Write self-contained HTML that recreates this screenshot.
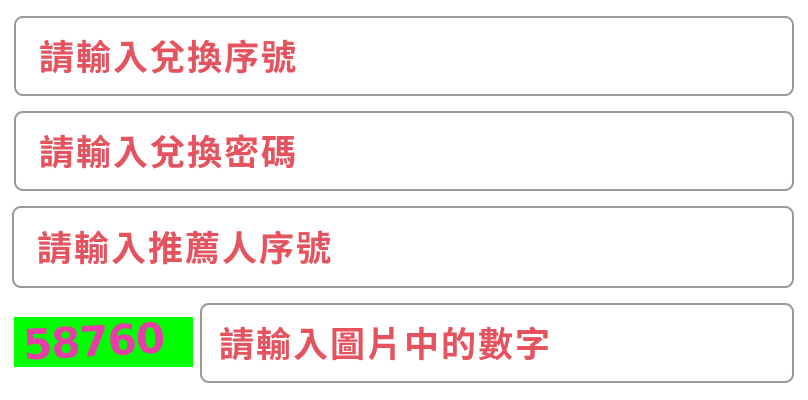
<!DOCTYPE html>
<html><head><meta charset="utf-8"><style>
body{margin:0;width:808px;height:400px;background:#fff;position:relative;overflow:hidden;font-family:"Liberation Sans","Noto Sans CJK TC",sans-serif}
.b{position:absolute;border:2px solid #999;border-radius:9px;box-sizing:border-box;color:#e5535f;font-size:35px;font-weight:bold;line-height:1;display:flex;align-items:center;padding-left:23px;padding-top:4px;letter-spacing:2px}
.cap{position:absolute;left:14px;top:317px;width:179px;height:50px;background:#00ff00;overflow:hidden}
.cap span{position:absolute;left:9px;top:0px;font:bold 42px "DejaVu Sans",sans-serif;color:#e83ca8;letter-spacing:-1px;transform:rotate(-3deg)}
</style></head><body>
<div class="b" style="left:14px;top:16px;width:780px;height:80px">請輸入兌換序號</div>
<div class="b" style="left:14px;top:111px;width:780px;height:80px">請輸入兌換密碼</div>
<div class="b" style="left:12px;top:206px;width:782px;height:82px">請輸入推薦人序號</div>
<div class="cap"><span>58760</span></div>
<div class="b" style="left:200px;top:303px;width:594px;height:80px;padding-left:17px">請輸入圖片中的數字</div>
</body></html>
